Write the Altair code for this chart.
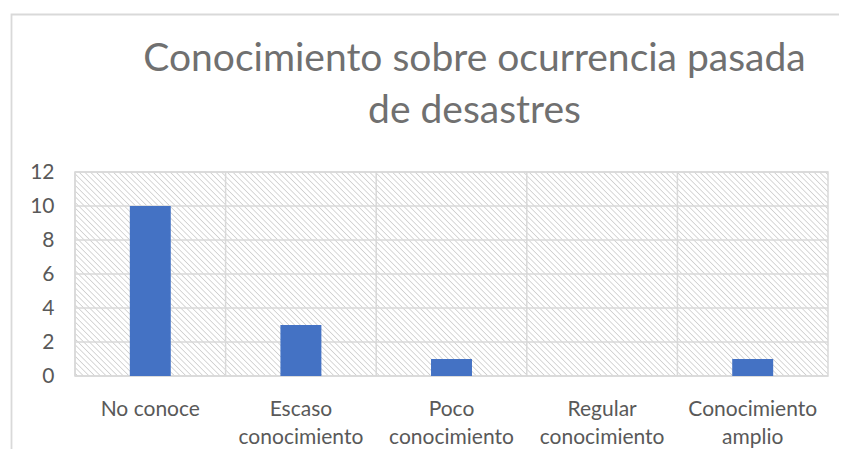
import altair as alt
import pandas as pd

# ---- data ----
categories = ["No conoce", "Escaso conocimiento", "Poco conocimiento",
              "Regular conocimiento", "Conocimiento amplio"]
counts = [10, 3, 1, 0, 1]
y_ticks = [0, 2, 4, 6, 8, 10, 12]
title_lines = ["Conocimiento sobre ocurrencia pasada", "de desastres"]

# ---- style ----
W, H = 753, 204
GRID = "#d9d9d9"
TEXT = "#595959"
BAR = "#4472C4"
FONT = "Lato"

df = pd.DataFrame({"cat": categories, "value": counts})
ticks_df = pd.DataFrame({"value": y_ticks})
one = pd.DataFrame({"k": [0]})

# diagonal hatch as a striped linear gradient (stripes at 45 degrees)
period = 5.7
n = round((W + H) / period)
stops = []
for i in range(n):
    a = i / n
    stops += [
        alt.GradientStop(color="#ffffff", offset=a),
        alt.GradientStop(color="#ffffff", offset=a + 0.3 / n),
        alt.GradientStop(color="#cfcfcf", offset=a + 0.5 / n),
        alt.GradientStop(color="#ffffff", offset=a + 0.7 / n),
    ]
stops.append(alt.GradientStop(color="#ffffff", offset=1))
k = (W + H) / (W * W + H * H)
hatch = alt.LinearGradient(gradient="linear", stops=stops,
                           x1=0, y1=1, x2=W * k, y2=1 - H * k)

x_scale = alt.Scale(paddingInner=0, paddingOuter=0)
y_scale = alt.Scale(domain=[0, 12], nice=False)

x_axis = alt.Axis(grid=False, domain=False, ticks=False, labelAngle=0,
                  labelPadding=22, labelLineHeight=28, labelFont=FONT,
                  labelFontSize=21, labelColor=TEXT, labelLimit=0, title=None,
                  labelExpr="length(datum.label) > 12 ? split(datum.label, ' ') : datum.label")
y_axis = alt.Axis(values=y_ticks, grid=False, domain=False, ticks=False,
                  labelPadding=21, labelFont=FONT, labelFontSize=21,
                  labelColor=TEXT, title=None)

bg = alt.Chart(one).mark_rect(fill=hatch, stroke=GRID, strokeWidth=1.5).encode(
    x=alt.value(0), x2=alt.value("width"), y=alt.value(0), y2=alt.value("height"))

frame = alt.Chart(one).mark_rect(fill="transparent", stroke=GRID, strokeWidth=1.8).encode(
    x=alt.value(-63.5), x2=alt.value(W + 200), y=alt.value(-157.5), y2=alt.value(H + 200))

hgrid = alt.Chart(ticks_df).mark_rule(color=GRID, strokeWidth=1.5).encode(
    y=alt.Y("value:Q", scale=y_scale, axis=y_axis))

vgrid = alt.Chart(df).mark_rule(color=GRID, strokeWidth=1.5).encode(
    x=alt.X("cat:N", sort=categories, scale=x_scale, axis=x_axis, bandPosition=0))

bars = alt.Chart(df).mark_bar(color=BAR, width=alt.RelativeBandSize(0.272)).encode(
    x=alt.X("cat:N", sort=categories, scale=x_scale, axis=x_axis),
    y=alt.Y("value:Q", scale=y_scale, axis=y_axis))

chart = alt.layer(frame, bg, hgrid, vgrid, bars).properties(
    width=W, height=H,
    autosize=alt.AutoSizeParams(type="none"),
    padding={"left": 67, "top": 164, "right": 11, "bottom": 73},
    title=alt.TitleParams(text=title_lines, font=FONT, fontSize=39,
                          fontWeight="normal", color="#707070",
                          anchor="middle", frame="group", dx=23,
                          offset=-117, lineHeight=52),
).configure_view(stroke=None)

chart.save("out.html", embed_options={"renderer": "svg", "actions": False})
